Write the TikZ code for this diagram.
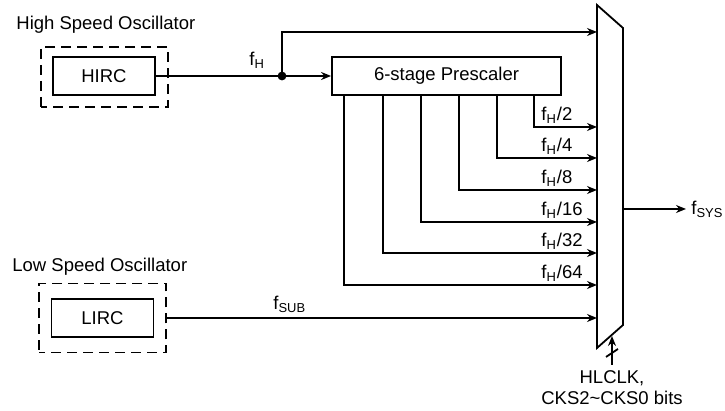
\documentclass[tikz,border=0pt]{standalone}
\usepackage{fontspec}
\setmainfont{Liberation Sans}
\usetikzlibrary{arrows.meta, positioning}

\tikzset{
  sig/.style={line width=0.9pt},
  sigarrow/.style={sig, -{Stealth[length=5pt,width=4pt]}},
  blockbox/.style={draw, line width=0.9pt, minimum width=51pt, minimum height=19pt, inner sep=0pt},
  oscbox/.style={draw, line width=0.9pt, dash pattern=on 5pt off 3pt, dash phase=2pt, minimum width=63.5pt, inner sep=0pt},
  lbl/.style={inner sep=0pt},
}

\begin{document}
\begin{tikzpicture}[x=0.5pt, y=-0.5pt, font=\fontsize{9.25pt}{10.5pt}\selectfont]
  \useasboundingbox (0,0) rectangle (725,411);

  % high speed oscillator
  \node[lbl, anchor=west] (hsotxt) at (16,25) {High Speed Oscillator};
  \node[oscbox, minimum height=30pt] (hosc) at (104.5,77) {};
  \node[blockbox] (hirc) at (104,76) {HIRC};

  % low speed oscillator
  \node[lbl, anchor=west] (lsotxt) at (12,267) {Low Speed Oscillator};
  \node[oscbox, minimum height=34.5pt] (losc) at (102.5,318) {};
  \node[blockbox] (lirc) at (102.5,318) {LIRC};

  \node[blockbox, minimum width=114.5pt] (presc) at (446.5,76) {6-stage Prescaler};

  % clock multiplexer
  \coordinate (mtl) at (597,5);
  \coordinate (mtr) at (623,28);
  \coordinate (mbr) at (623,325);
  \coordinate (mbl) at (597,348);
  \draw[sig, line join=miter] (mtl) -- (mtr) -- (mbr) -- (mbl) -- cycle;

  % f_H from HIRC
  \coordinate (fh) at (282,76);
  \draw[sig] (hirc.east) -- (fh);
  \draw[sigarrow] (fh) -- (presc.west);
  \fill (fh) circle (2.2pt);
  \coordinate (in0) at (597,32);
  \draw[sigarrow] (fh) |- (in0);
  \node[lbl, anchor=south west] (fhtxt) at (249,69) {f\textsubscript{H}};

  % prescaler taps
  \foreach \x/\y/\d in {534/127/2, 497/158/4, 459/190/8, 421/222/16, 383/253/32, 344/285/64}{
    \coordinate (tap\d) at (\x,95);
    \coordinate (in\d) at (597,\y);
    \draw[sigarrow] (tap\d) |- (in\d);
    \node[lbl, anchor=south west] (div\d) at (541,\y-3) {f\textsubscript{H}/\d};
  }

  % f_SUB from LIRC
  \coordinate (insub) at (597,318);
  \draw[sigarrow] (losc.east) -- (insub);
  \node[lbl, anchor=south west] (fsubtxt) at (273,313) {f\textsubscript{SUB}};

  % system clock
  \coordinate (mout) at (623,209);
  \coordinate (sys) at (686,209);
  \draw[sigarrow] (mout) -- (sys);
  \node[lbl, anchor=west] (fsys) at (691,209) {f\textsubscript{SYS}};

  % select bits
  \coordinate (selbot) at (612,365);
  \coordinate (seltop) at (612,336);
  \draw[sigarrow] (selbot) -- (seltop);
  \draw[sig] (606,357) -- (618,349);
  \node[lbl, align=center, anchor=north] (seltxt) at (612,370) {HLCLK,\\CKS2\textasciitilde CKS0 bits};
\end{tikzpicture}
\end{document}
